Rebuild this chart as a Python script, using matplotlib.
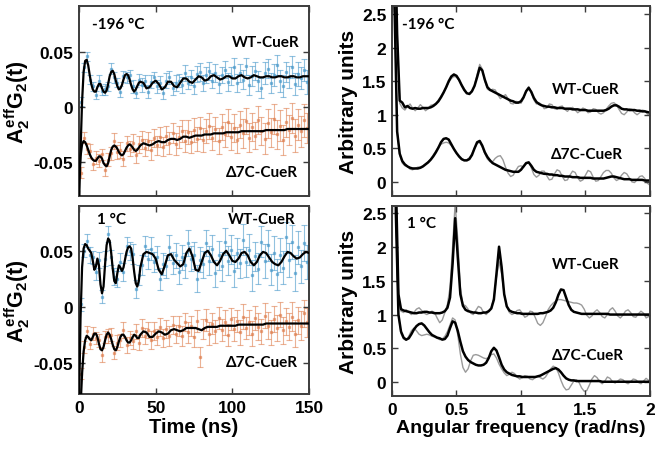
import numpy as np
import matplotlib.pyplot as plt

plt.rcParams['font.family'] = 'Liberation Sans'
plt.rcParams['font.weight'] = 'bold'
plt.rcParams['axes.labelweight'] = 'bold'
plt.rcParams['mathtext.fontset'] = 'custom'
plt.rcParams['mathtext.rm'] = 'Liberation Sans:bold'
plt.rcParams['mathtext.it'] = 'Liberation Sans:bold'
plt.rcParams['mathtext.bf'] = 'Liberation Sans:bold'

# ---------------- time domain (ns) ----------------
fit_t = list(range(0, 41)) + list(range(42, 151, 2))
data_t = list(range(1, 150, 2))

# -196 C, WT-CueR
wt1_fit = [-0.09, -0.04, 0.005, 0.032, 0.042, 0.043, 0.038, 0.029, 0.021, 0.016,
           0.014, 0.014, 0.018, 0.021, 0.021, 0.017, 0.014, 0.013, 0.015, 0.021,
           0.028, 0.032, 0.033, 0.030, 0.024, 0.019, 0.016, 0.017, 0.020, 0.025,
           0.029, 0.030, 0.029, 0.025, 0.020, 0.016, 0.014, 0.016, 0.019, 0.022,
           0.023,
           0.022, 0.017, 0.018, 0.022, 0.024, 0.021, 0.016, 0.018, 0.023, 0.023,
           0.019, 0.018, 0.022, 0.026, 0.026, 0.023, 0.022, 0.025, 0.028, 0.027,
           0.024, 0.025, 0.028, 0.029, 0.027, 0.025, 0.026, 0.028, 0.028, 0.026,
           0.026, 0.028, 0.029, 0.027, 0.026, 0.027, 0.029, 0.028, 0.027, 0.027,
           0.028, 0.028, 0.027, 0.027, 0.028, 0.028, 0.027, 0.027, 0.028, 0.028,
           0.027, 0.027, 0.028, 0.028, 0.028]
wt1_y = [0.005, 0.036, 0.046, 0.025, 0.019, 0.011, 0.024, 0.015, 0.016, 0.019,
         0.035, 0.027, 0.022, 0.014, 0.028, 0.027, 0.029, 0.019, 0.013, 0.025,
         0.020, 0.024, 0.014, 0.023, 0.027, 0.019, 0.022, 0.013, 0.024, 0.027,
         0.017, 0.022, 0.024, 0.020, 0.031, 0.022, 0.027, 0.019, 0.030, 0.032,
         0.022, 0.029, 0.033, 0.024, 0.031, 0.021, 0.029, 0.034, 0.023, 0.028,
         0.036, 0.022, 0.031, 0.025, 0.037, 0.020, 0.028, 0.033, 0.024, 0.017,
         0.031, 0.035, 0.022, 0.029, 0.038, 0.024, 0.019, 0.032, 0.027, 0.036,
         0.021, 0.030, 0.026, 0.034, 0.023]
wt1_e = [0.004, 0.004, 0.004, 0.004, 0.004, 0.004, 0.005, 0.004, 0.005, 0.004,
         0.005, 0.005, 0.004, 0.005, 0.005, 0.005, 0.005, 0.006, 0.005, 0.005,
         0.006, 0.005, 0.006, 0.006, 0.005, 0.006, 0.006, 0.006, 0.007, 0.006,
         0.006, 0.007, 0.006, 0.007, 0.007, 0.006, 0.007, 0.007, 0.007, 0.008,
         0.007, 0.007, 0.008, 0.007, 0.008, 0.008, 0.007, 0.008, 0.008, 0.008,
         0.009, 0.008, 0.008, 0.009, 0.008, 0.009, 0.009, 0.008, 0.009, 0.009,
         0.010, 0.009, 0.009, 0.010, 0.009, 0.010, 0.010, 0.009, 0.010, 0.010,
         0.010, 0.011, 0.010, 0.010, 0.011]

# -196 C, d7C-CueR
d1_fit = [-0.065, -0.045, -0.034, -0.031, -0.032, -0.035, -0.039, -0.043, -0.046, -0.048,
          -0.049, -0.049, -0.047, -0.045, -0.045, -0.047, -0.051, -0.053, -0.054, -0.051,
          -0.045, -0.039, -0.036, -0.035, -0.036, -0.038, -0.041, -0.043, -0.044, -0.043,
          -0.040, -0.037, -0.035, -0.034, -0.035, -0.037, -0.039, -0.040, -0.039, -0.037,
          -0.035,
          -0.033, -0.034, -0.035, -0.034, -0.032, -0.031, -0.032, -0.032, -0.030, -0.029,
          -0.029, -0.030, -0.029, -0.027, -0.027, -0.028, -0.027, -0.026, -0.026, -0.026,
          -0.025, -0.025, -0.025, -0.024, -0.024, -0.024, -0.024, -0.023, -0.023, -0.023,
          -0.023, -0.023, -0.022, -0.022, -0.022, -0.022, -0.022, -0.022, -0.022, -0.022,
          -0.021, -0.021, -0.021, -0.021, -0.021, -0.021, -0.021, -0.020, -0.020, -0.020,
          -0.020, -0.020, -0.020, -0.020, -0.020]
d1_y = [-0.060, -0.028, -0.038, -0.040, -0.052, -0.046, -0.049, -0.043, -0.057, -0.048,
        -0.042, -0.031, -0.041, -0.039, -0.047, -0.033, -0.038, -0.033, -0.044, -0.034,
        -0.030, -0.037, -0.031, -0.039, -0.028, -0.035, -0.027, -0.036, -0.026, -0.033,
        -0.024, -0.034, -0.027, -0.022, -0.031, -0.023, -0.032, -0.021, -0.029, -0.019,
        -0.030, -0.022, -0.017, -0.028, -0.020, -0.031, -0.018, -0.025, -0.014, -0.027,
        -0.019, -0.030, -0.016, -0.024, -0.013, -0.028, -0.018, -0.026, -0.012, -0.022,
        -0.029, -0.015, -0.023, -0.011, -0.025, -0.017, -0.030, -0.014, -0.021, -0.010,
        -0.026, -0.016, -0.022, -0.012, -0.019]
d1_e = [0.005, 0.005, 0.005, 0.006, 0.005, 0.006, 0.006, 0.005, 0.006, 0.006,
        0.006, 0.007, 0.006, 0.007, 0.007, 0.007, 0.007, 0.008, 0.007, 0.008,
        0.008, 0.008, 0.008, 0.009, 0.008, 0.009, 0.009, 0.009, 0.009, 0.010,
        0.009, 0.010, 0.010, 0.010, 0.010, 0.011, 0.010, 0.011, 0.011, 0.010,
        0.011, 0.011, 0.012, 0.011, 0.011, 0.012, 0.012, 0.011, 0.012, 0.012,
        0.013, 0.012, 0.012, 0.013, 0.012, 0.013, 0.013, 0.012, 0.013, 0.013,
        0.014, 0.013, 0.013, 0.014, 0.013, 0.014, 0.014, 0.013, 0.014, 0.014,
        0.015, 0.014, 0.014, 0.015, 0.014]

# 1 C, WT-CueR
wt2_fit = [-0.09, -0.01, 0.035, 0.052, 0.056, 0.055, 0.052, 0.050, 0.048, 0.041,
           0.033, 0.036, 0.043, 0.037, 0.020, 0.012, 0.018, 0.038, 0.055, 0.061,
           0.059, 0.048, 0.034, 0.023, 0.021, 0.030, 0.037, 0.035, 0.032, 0.035,
           0.042, 0.049, 0.053, 0.054, 0.052, 0.043, 0.031, 0.021, 0.018, 0.023,
           0.035,
           0.047, 0.049, 0.048, 0.047, 0.043, 0.033, 0.029, 0.037, 0.046, 0.047,
           0.042, 0.039, 0.036, 0.038, 0.048, 0.052, 0.045, 0.033, 0.032, 0.040,
           0.048, 0.050, 0.046, 0.040, 0.037, 0.041, 0.047, 0.050, 0.046, 0.041,
           0.040, 0.043, 0.048, 0.049, 0.046, 0.040, 0.037, 0.040, 0.046, 0.049,
           0.048, 0.044, 0.040, 0.038, 0.037, 0.040, 0.045, 0.049, 0.048, 0.045,
           0.043, 0.044, 0.047, 0.049, 0.048]
wt2_y = [0.002, 0.050, 0.059, 0.046, 0.044, 0.031, 0.042, 0.009, 0.043, 0.065,
         0.044, 0.027, 0.025, 0.040, 0.031, 0.054, 0.050, 0.047, 0.016, 0.028,
         0.037, 0.054, 0.043, 0.052, 0.040, 0.044, 0.025, 0.038, 0.036, 0.053,
         0.039, 0.046, 0.031, 0.044, 0.037, 0.057, 0.043, 0.046, 0.025, 0.042,
         0.038, 0.057, 0.041, 0.052, 0.030, 0.046, 0.036, 0.058, 0.041, 0.051,
         0.032, 0.048, 0.039, 0.060, 0.040, 0.051, 0.028, 0.045, 0.034, 0.058,
         0.041, 0.055, 0.033, 0.048, 0.029, 0.046, 0.035, 0.062, 0.042, 0.058,
         0.030, 0.053, 0.036, 0.057, 0.040]
wt2_e = [0.006, 0.006, 0.006, 0.007, 0.006, 0.007, 0.007, 0.006, 0.007, 0.007,
         0.007, 0.008, 0.007, 0.008, 0.008, 0.008, 0.008, 0.009, 0.008, 0.009,
         0.009, 0.009, 0.009, 0.010, 0.009, 0.010, 0.010, 0.010, 0.010, 0.011,
         0.010, 0.011, 0.011, 0.011, 0.011, 0.012, 0.011, 0.012, 0.012, 0.011,
         0.012, 0.012, 0.013, 0.012, 0.012, 0.013, 0.013, 0.012, 0.013, 0.013,
         0.014, 0.013, 0.013, 0.014, 0.013, 0.014, 0.014, 0.013, 0.014, 0.014,
         0.015, 0.014, 0.014, 0.015, 0.014, 0.015, 0.015, 0.014, 0.015, 0.015,
         0.016, 0.015, 0.015, 0.016, 0.015]

# 1 C, d7C-CueR
d2_fit = [-0.12, -0.09, -0.060, -0.040, -0.030, -0.026, -0.027, -0.029, -0.030, -0.027,
          -0.024, -0.024, -0.027, -0.033, -0.038, -0.039, -0.036, -0.030, -0.025, -0.023,
          -0.025, -0.029, -0.034, -0.038, -0.039, -0.036, -0.031, -0.027, -0.025, -0.025,
          -0.027, -0.030, -0.032, -0.032, -0.030, -0.027, -0.025, -0.026, -0.028, -0.028,
          -0.025,
          -0.022, -0.023, -0.027, -0.027, -0.024, -0.022, -0.023, -0.025, -0.024, -0.021,
          -0.020, -0.021, -0.022, -0.021, -0.019, -0.019, -0.019, -0.019, -0.020, -0.021,
          -0.019, -0.018, -0.018, -0.018, -0.018, -0.017, -0.017, -0.017, -0.017, -0.017,
          -0.017, -0.016, -0.016, -0.016, -0.016, -0.016, -0.016, -0.016, -0.016, -0.016,
          -0.015, -0.015, -0.015, -0.015, -0.015, -0.015, -0.015, -0.015, -0.015, -0.015,
          -0.015, -0.015, -0.015, -0.015, -0.015]
d2_y = [-0.060, -0.036, -0.022, -0.033, -0.024, -0.028, -0.030, -0.043, -0.027, -0.026,
        -0.025, -0.041, -0.032, -0.030, -0.021, -0.034, -0.028, -0.031, -0.022, -0.032,
        -0.019, -0.026, -0.021, -0.030, -0.022, -0.027, -0.018, -0.028, -0.020, -0.026,
        -0.016, -0.024, -0.017, -0.026, -0.014, -0.023, -0.017, -0.027, -0.013, -0.045,
        -0.020, -0.012, -0.024, -0.015, -0.022, -0.010, -0.021, -0.014, -0.025, -0.011,
        -0.020, -0.013, -0.023, -0.009, -0.019, -0.014, -0.024, -0.010, -0.018, -0.022,
        -0.008, -0.017, -0.023, -0.011, -0.019, -0.007, -0.021, -0.013, -0.018, -0.009,
        -0.024, -0.012, -0.017, -0.006, -0.014]
d2_e = [0.005, 0.005, 0.005, 0.005, 0.006, 0.005, 0.006, 0.006, 0.005, 0.006,
        0.006, 0.006, 0.007, 0.006, 0.007, 0.007, 0.006, 0.007, 0.007, 0.007,
        0.008, 0.007, 0.007, 0.008, 0.008, 0.007, 0.008, 0.008, 0.008, 0.009,
        0.008, 0.008, 0.009, 0.009, 0.008, 0.009, 0.009, 0.009, 0.010, 0.009,
        0.009, 0.010, 0.010, 0.009, 0.010, 0.010, 0.010, 0.011, 0.010, 0.010,
        0.011, 0.010, 0.011, 0.011, 0.010, 0.011, 0.011, 0.011, 0.012, 0.011,
        0.011, 0.012, 0.011, 0.012, 0.012, 0.011, 0.012, 0.012, 0.012, 0.013,
        0.012, 0.012, 0.013, 0.012, 0.013]

# ---------------- frequency domain (rad/ns) ----------------
w_top = np.linspace(0, 2, 101)
w_bot = np.linspace(0.01, 1.99, 100)

wt_top_fit = [6.0, 4.0, 2.2, 1.21, 1.18, 1.11, 1.13, 1.10, 1.09, 1.10,
              1.09, 1.09, 1.10, 1.10, 1.10, 1.11, 1.13, 1.16, 1.20, 1.26,
              1.33, 1.41, 1.50, 1.57, 1.60, 1.58, 1.52, 1.44, 1.37, 1.32,
              1.31, 1.35, 1.43, 1.56, 1.70, 1.66, 1.52, 1.41, 1.37, 1.35,
              1.33, 1.31, 1.29, 1.27, 1.25, 1.23, 1.21, 1.20, 1.18, 1.18,
              1.20, 1.26, 1.35, 1.40, 1.34, 1.25, 1.19, 1.16, 1.14, 1.13,
              1.12, 1.12, 1.11, 1.11, 1.10, 1.10, 1.10, 1.09, 1.09, 1.09,
              1.08, 1.08, 1.08, 1.07, 1.07, 1.07, 1.06, 1.06, 1.06, 1.06,
              1.06, 1.06, 1.06, 1.07, 1.09, 1.12, 1.14, 1.14, 1.12, 1.09,
              1.08, 1.08, 1.07, 1.07, 1.07, 1.06, 1.06, 1.05, 1.05, 1.04,
              1.03]
wt_top_data = [6.0, 4.0, 2.2, 1.17, 1.10, 1.07, 1.12, 1.16, 1.10, 1.06,
               1.10, 1.15, 1.11, 1.06, 1.09, 1.14, 1.15, 1.17, 1.22, 1.28,
               1.34, 1.40, 1.48, 1.54, 1.57, 1.56, 1.51, 1.45, 1.39, 1.33,
               1.30, 1.34, 1.44, 1.60, 1.75, 1.68, 1.50, 1.38, 1.36, 1.38,
               1.37, 1.30, 1.24, 1.27, 1.30, 1.24, 1.17, 1.16, 1.20, 1.19,
               1.17, 1.24, 1.36, 1.42, 1.33, 1.22, 1.16, 1.18, 1.15, 1.09,
               1.10, 1.16, 1.15, 1.09, 1.08, 1.12, 1.13, 1.08, 1.05, 1.09,
               1.11, 1.07, 1.03, 1.06, 1.10, 1.08, 1.03, 1.04, 1.09, 1.08,
               1.03, 1.01, 1.03, 1.08, 1.13, 1.17, 1.18, 1.15, 1.08, 1.02,
               1.00, 1.04, 1.09, 1.08, 1.03, 1.00, 1.03, 1.07, 1.06, 1.01,
               0.99]
d_top_fit = [5.0, 2.6, 0.75, 0.42, 0.31, 0.26, 0.23, 0.21, 0.20, 0.20,
             0.20, 0.21, 0.23, 0.26, 0.29, 0.33, 0.38, 0.44, 0.51, 0.59,
             0.64, 0.65, 0.63, 0.56, 0.49, 0.43, 0.38, 0.34, 0.32, 0.32,
             0.34, 0.40, 0.50, 0.59, 0.61, 0.54, 0.44, 0.37, 0.32, 0.28,
             0.26, 0.24, 0.22, 0.20, 0.18, 0.17, 0.16, 0.15, 0.15, 0.15,
             0.18, 0.23, 0.28, 0.29, 0.24, 0.18, 0.15, 0.14, 0.13, 0.12,
             0.12, 0.11, 0.11, 0.10, 0.10, 0.09, 0.09, 0.08, 0.08, 0.08,
             0.07, 0.07, 0.07, 0.06, 0.06, 0.06, 0.06, 0.06, 0.05, 0.05,
             0.05, 0.05, 0.05, 0.06, 0.07, 0.08, 0.08, 0.07, 0.06, 0.05,
             0.04, 0.04, 0.04, 0.03, 0.03, 0.03, 0.03, 0.03, 0.02, 0.02,
             0.02]
d_top_data = [5.0, 2.6, 0.75, 0.40, 0.28, 0.24, 0.23, 0.19, 0.18, 0.20,
              0.22, 0.22, 0.24, 0.27, 0.30, 0.34, 0.40, 0.46, 0.52, 0.56,
              0.58, 0.59, 0.58, 0.54, 0.49, 0.43, 0.37, 0.33, 0.32, 0.33,
              0.36, 0.42, 0.50, 0.57, 0.59, 0.52, 0.42, 0.34, 0.30, 0.30,
              0.35, 0.38, 0.39, 0.33, 0.22, 0.13, 0.08, 0.10, 0.17, 0.23,
              0.24, 0.22, 0.27, 0.30, 0.21, 0.11, 0.07, 0.10, 0.16, 0.16,
              0.09, 0.03, 0.04, 0.12, 0.18, 0.16, 0.08, 0.02, 0.03, 0.10,
              0.16, 0.14, 0.06, 0.01, 0.03, 0.10, 0.17, 0.15, 0.07, 0.01,
              0.02, 0.08, 0.14, 0.17, 0.17, 0.13, 0.06, 0.02, 0.04, 0.10,
              0.14, 0.12, 0.06, 0.00, -0.01, 0.03, 0.08, 0.09, 0.05, -0.02,
              -0.05]

wt_bot_fit = [8.0, 3.0, 1.30, 1.08, 1.06, 1.05, 1.04, 1.03, 1.02, 1.02,
              1.03, 1.03, 1.04, 1.04, 1.03, 1.03, 1.02, 1.02, 1.02, 1.03,
              1.05, 1.10, 1.25, 1.75, 2.42, 1.85, 1.30, 1.13, 1.07, 1.05,
              1.04, 1.03, 1.03, 1.02, 1.02, 1.03, 1.03, 1.05, 1.09, 1.22,
              1.60, 2.00, 1.70, 1.30, 1.12, 1.06, 1.04, 1.03, 1.02, 1.02,
              1.01, 1.01, 1.01, 1.01, 1.01, 1.01, 1.01, 1.02, 1.02, 1.03,
              1.04, 1.06, 1.10, 1.18, 1.29, 1.37, 1.36, 1.25, 1.14, 1.07,
              1.04, 1.03, 1.02, 1.01, 1.01, 1.01, 1.01, 1.01, 1.01, 1.01,
              1.01, 1.01, 1.01, 1.01, 1.00, 1.00, 1.00, 1.00, 1.00, 1.00,
              1.00, 1.00, 1.00, 1.00, 1.00, 1.00, 1.00, 1.00, 1.00, 1.00]
wt_bot_data = [8.0, 3.0, 1.25, 1.05, 1.03, 1.07, 1.04, 1.00, 1.03, 1.08,
               1.10, 1.06, 1.02, 1.00, 1.02, 1.05, 1.03, 0.95, 0.88, 0.92,
               1.03, 1.15, 1.40, 2.00, 2.65, 2.10, 1.40, 1.15, 1.13, 1.08,
               1.02, 1.00, 1.06, 1.12, 1.10, 1.03, 1.00, 1.04, 1.10, 1.25,
               1.55, 1.78, 1.60, 1.30, 1.12, 1.03, 1.00, 1.02, 1.06, 1.07,
               1.02, 0.96, 0.98, 1.05, 1.04, 0.96, 0.87, 0.84, 0.88, 0.97,
               1.07, 1.13, 1.17, 1.20, 1.22, 1.22, 1.21, 1.20, 1.19, 1.18,
               1.17, 1.17, 1.16, 1.14, 1.08, 0.99, 0.95, 0.98, 1.04, 1.07,
               1.03, 0.97, 0.95, 1.00, 1.07, 1.10, 1.05, 0.98, 0.95, 0.99,
               1.05, 1.07, 1.03, 0.97, 0.96, 1.01, 1.05, 1.02, 0.95, 0.97]
d_bot_fit = [7.0, 2.5, 1.00, 0.75, 0.66, 0.63, 0.65, 0.71, 0.78, 0.83,
             0.86, 0.87, 0.84, 0.79, 0.74, 0.70, 0.68, 0.66, 0.65, 0.63,
             0.64, 0.69, 0.80, 0.90, 0.88, 0.76, 0.60, 0.46, 0.38, 0.33,
             0.30, 0.28, 0.26, 0.25, 0.25, 0.26, 0.29, 0.36, 0.46, 0.51,
             0.47, 0.37, 0.26, 0.19, 0.15, 0.13, 0.11, 0.10, 0.09, 0.09,
             0.08, 0.08, 0.08, 0.08, 0.08, 0.08, 0.09, 0.10, 0.12, 0.14,
             0.16, 0.18, 0.20, 0.21, 0.19, 0.15, 0.10, 0.06, 0.04, 0.03,
             0.03, 0.02, 0.02, 0.02, 0.02, 0.02, 0.02, 0.02, 0.02, 0.02,
             0.02, 0.01, 0.01, 0.01, 0.01, 0.01, 0.01, 0.01, 0.01, 0.01,
             0.01, 0.01, 0.01, 0.01, 0.01, 0.01, 0.01, 0.01, 0.01, 0.01]
d_bot_data = [7.0, 2.5, 1.00, 0.72, 0.64, 0.62, 0.68, 0.76, 0.80, 0.76,
              0.71, 0.69, 0.70, 0.71, 0.70, 0.68, 0.67, 0.65, 0.63, 0.64,
              0.68, 0.75, 0.85, 0.95, 0.92, 0.70, 0.42, 0.22, 0.15, 0.20,
              0.32, 0.40, 0.41, 0.40, 0.38, 0.36, 0.35, 0.37, 0.41, 0.42,
              0.36, 0.27, 0.20, 0.14, 0.10, 0.12, 0.15, 0.13, 0.08, 0.05,
              0.07, 0.10, 0.09, 0.05, 0.04, 0.07, 0.09, 0.07, 0.05, 0.08,
              0.14, 0.20, 0.24, 0.22, 0.14, 0.03, -0.06, -0.11, -0.10, -0.04,
              0.02, 0.04, 0.00, -0.08, -0.13, -0.12, -0.04, 0.05, 0.10, 0.07,
              0.01, -0.02, 0.02, 0.08, 0.06, 0.01, -0.01, 0.02, 0.05, 0.04,
              0.00, -0.02, 0.01, 0.05, 0.04, 0.00, -0.02, 0.02, 0.06, 0.03]

blue = '#4a9acb'
orange = '#df7f4f'
spine_col = '#3c3c3c'
ann_font = 'Lato'
tick_fs = 12.5

fig = plt.figure(figsize=(6.6, 4.52), dpi=100)
ax_lt = fig.add_axes([0.1197, 0.5642, 0.3485, 0.4204])
ax_lb = fig.add_axes([0.1197, 0.1261, 0.3485, 0.4159])
ax_rt = fig.add_axes([0.5939, 0.5642, 0.3909, 0.4204])
ax_rb = fig.add_axes([0.5939, 0.1217, 0.3909, 0.4204])


def style(ax):
    for s in ax.spines.values():
        s.set_color(spine_col)
        s.set_linewidth(1.4)
    ax.tick_params(direction='in', top=True, right=True, length=4, width=1,
                   color=spine_col, pad=4)


def labels(ax, temp, tpos, wpos, dpos):
    ax.text(tpos[0], tpos[1], temp, fontsize=11, fontweight='bold',
            family=ann_font, ha='left', va='center')
    ax.text(wpos[0], wpos[1], 'WT-CueR', fontsize=11, fontweight='bold',
            family=ann_font, ha='center', va='center')
    ax.text(dpos[0], dpos[1], 'Δ7C-CueR', fontsize=11, fontweight='bold',
            family=ann_font, ha='center', va='center')


# left: time traces
for ax, wy, we, wf, dy, de, df, ylim, temp, tpos, wpos, dpos in [
        (ax_lt, wt1_y, wt1_e, wt1_fit, d1_y, d1_e, d1_fit, (-0.081, 0.092),
         '-196 °C', (8.5, 0.0755), (122, 0.059), (119, -0.059)),
        (ax_lb, wt2_y, wt2_e, wt2_fit, d2_y, d2_e, d2_fit, (-0.078, 0.090),
         '1 °C', (11.5, 0.0786), (119, 0.0786), (119, -0.049))]:
    ax.errorbar(data_t, wy, yerr=we, fmt='s', ms=1.4, color=blue, ecolor=blue,
                elinewidth=0.8, capsize=2, capthick=0.8, alpha=0.6, zorder=1)
    ax.errorbar(data_t, dy, yerr=de, fmt='s', ms=1.4, color=orange, ecolor=orange,
                elinewidth=0.8, capsize=2, capthick=0.8, alpha=0.6, zorder=1)
    ax.plot(fit_t, wf, color='black', lw=1.6, zorder=3)
    ax.plot(fit_t, df, color='black', lw=1.6, zorder=3)
    ax.set_xlim(0, 150)
    ax.set_ylim(*ylim)
    ax.set_xticks([0, 50, 100, 150])
    ax.set_yticks([-0.05, 0, 0.05])
    ax.set_yticklabels(['-0.05', '0', '0.05'], fontsize=tick_fs, fontweight='bold')
    ax.set_ylabel(r'$A_2^{eff}G_2(t)$', fontsize=15.5, labelpad=1)
    labels(ax, temp, tpos, wpos, dpos)

ax_lt.set_xticklabels([])
ax_lb.set_xticklabels(['0', '50', '100', '150'], fontsize=tick_fs, fontweight='bold')
ax_lb.set_xlabel('Time (ns)', fontsize=14.5, fontweight='bold', labelpad=2)

# right: spectra
for ax, w, wd, wf, dd, dfit, ylim, temp, tpos, wpos, dpos in [
        (ax_rt, w_top, wt_top_data, wt_top_fit, d_top_data, d_top_fit, (-0.21, 2.62),
         '-196 °C', (0.078, 2.35), (1.50, 1.38), (1.51, 0.42)),
        (ax_rb, w_bot, wt_bot_data, wt_bot_fit, d_bot_data, d_bot_fit, (-0.2, 2.6),
         '1 °C', (0.116, 2.35), (1.50, 1.74), (1.52, 0.41))]:
    ax.plot(w, wd, color='#9a9a9a', lw=1.0, zorder=1)
    ax.plot(w, dd, color='#9a9a9a', lw=1.0, zorder=1)
    ax.plot(w, wf, color='black', lw=1.8, zorder=2)
    ax.plot(w, dfit, color='black', lw=1.8, zorder=2)
    ax.set_xlim(0, 2)
    ax.set_ylim(*ylim)
    ax.set_xticks([0, 0.5, 1, 1.5, 2])
    ax.set_yticks([0, 0.5, 1, 1.5, 2, 2.5])
    ax.set_yticklabels(['0', '0.5', '1', '1.5', '2', '2.5'], fontsize=tick_fs,
                       fontweight='bold')
    ax.set_ylabel('Arbitrary units', fontsize=15, fontweight='bold', labelpad=3)
    labels(ax, temp, tpos, wpos, dpos)

ax_rt.set_xticklabels([])
ax_rb.set_xticklabels(['0', '0.5', '1', '1.5', '2'], fontsize=tick_fs, fontweight='bold')
ax_rb.set_xlabel('Angular frequency (rad/ns)', fontsize=14, fontweight='bold',
                 labelpad=2)

for ax in (ax_lt, ax_lb, ax_rt, ax_rb):
    style(ax)

fig.savefig('out.png', dpi=100)
